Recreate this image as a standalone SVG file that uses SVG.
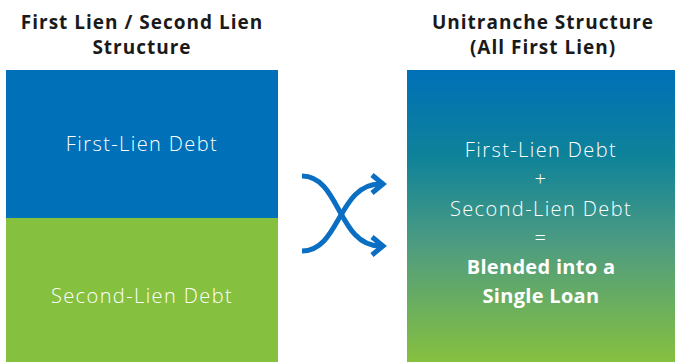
<svg xmlns="http://www.w3.org/2000/svg" width="675" height="362" viewBox="0 0 675 362">
  <style>
    .title { font-family: "Open Sans", "Liberation Sans", sans-serif; font-size: 19px; font-weight: bold; letter-spacing: 1px; fill: #1a1a1a; text-anchor: middle; }
    .label { font-family: "Open Sans", "Liberation Sans", sans-serif; font-size: 20px; font-weight: 300; letter-spacing: 1.4px; fill: #ffffff; text-anchor: middle; }
    .strong { font-family: "Open Sans", "Liberation Sans", sans-serif; font-size: 20px; font-weight: bold; letter-spacing: 0.3px; fill: #ffffff; text-anchor: middle; }
    .link { fill: none; stroke: #0a6fc2; stroke-width: 5; }
  </style>
  <defs>
    <linearGradient id="blend" x1="0" y1="0" x2="0" y2="1">
      <stop offset="0" stop-color="#0070b8"/>
      <stop offset="0.3" stop-color="#0f8399"/>
      <stop offset="0.6" stop-color="#4e9c80"/>
      <stop offset="1" stop-color="#86c03f"/>
    </linearGradient>
  </defs>
  <rect width="675" height="362" fill="#ffffff"/>

  <g id="split-structure">
    <text class="title" x="142" y="29">First Lien / Second Lien</text>
    <text class="title" x="142" y="54">Structure</text>
  </g>
  <g id="first-lien">
    <rect x="6" y="70" width="272" height="148" fill="#0070b8"/>
    <text class="label" x="142" y="151">First-Lien Debt</text>
  </g>
  <g id="second-lien">
    <rect x="6" y="218" width="272" height="144" fill="#86c03f"/>
    <text class="label" x="142" y="303">Second-Lien Debt</text>
  </g>

  <g id="connectors">
    <path class="link" d="M302,176 C340,176 338,246 380,246"/>
    <path class="link" d="M302,251 C340,251 338,184 380,184"/>
    <polyline class="link" points="372,175 383,184 372,193"/>
    <polyline class="link" points="372,237 383,246 372,255"/>
  </g>

  <g id="unitranche">
    <text class="title" x="543" y="29">Unitranche Structure</text>
    <text class="title" x="543" y="54">(All First Lien)</text>
    <rect x="407" y="70" width="268" height="292" fill="url(#blend)"/>
    <text class="label" x="541" y="157">First-Lien Debt</text>
    <text class="label" x="541" y="186">+</text>
    <text class="label" x="541" y="216">Second-Lien Debt</text>
    <text class="label" x="541" y="245">=</text>
    <text class="strong" x="541" y="274">Blended into a</text>
    <text class="strong" x="541" y="303">Single Loan</text>
  </g>
</svg>
